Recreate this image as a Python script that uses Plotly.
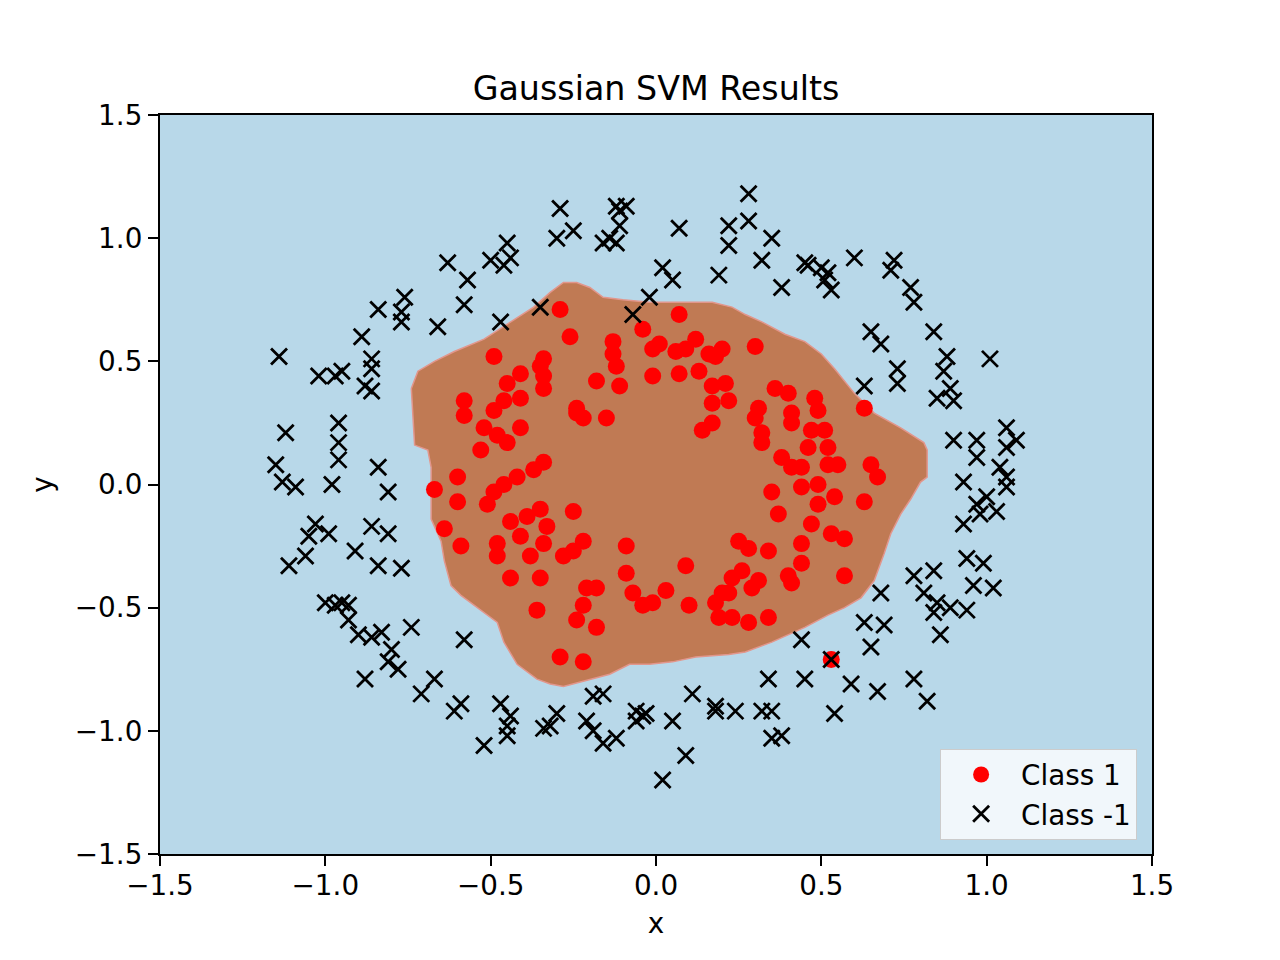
import plotly.graph_objects as go

# ---- data ----
class1_x = [-0.29, -0.26, -0.49, -0.34, -0.35, -0.34, -0.41, -0.45, -0.18, -0.13, -0.13, -0.12, -0.04, -0.01, 0.01, -0.01, -0.11,
            0.07, 0.06, 0.09, 0.12, 0.16, 0.18, 0.20, 0.30, 0.07, 0.13, 0.21, 0.17, 0.17, 0.22, 0.17, 0.14, 0.36, 0.40, 0.48,
            0.49, 0.31, 0.30, 0.32, 0.32, 0.41, 0.41, 0.47, 0.51, 0.46, 0.52, 0.38, 0.41, 0.44, 0.52, 0.55, 0.35, 0.44, 0.49,
            0.49, 0.54, 0.37, 0.47, 0.53, 0.57, 0.44, 0.25, 0.28, 0.34, 0.44, 0.09, 0.26, 0.23, 0.31, 0.40, 0.41, 0.03, 0.57,
            0.63, 0.65, 0.67, 0.63,
            -0.58, -0.58, -0.49, -0.46, -0.41, -0.34, -0.52, -0.48, -0.45, -0.41, -0.53, -0.24, -0.22, -0.24, -0.15, -0.34,
            -0.37, -0.42, -0.46, -0.49, -0.51, -0.60, -0.60, -0.25, -0.35, -0.39, -0.44, -0.33, -0.41, -0.34, -0.48, -0.59,
            -0.48, -0.38, -0.28, -0.22, -0.25, -0.09, -0.44, -0.35, -0.09, -0.21, -0.18, -0.64, -0.67,
            -0.36, -0.22, -0.24, -0.18, -0.29, -0.22, -0.07, -0.04, -0.01, 0.10, 0.18, 0.20, 0.22, 0.19, 0.23, 0.28, 0.34,
            0.29, 0.53]
class1_y = [0.71, 0.60, 0.52, 0.51, 0.48, 0.44, 0.45, 0.41, 0.42, 0.58, 0.53, 0.48, 0.63, 0.55, 0.57, 0.44, 0.40,
            0.69, 0.54, 0.55, 0.59, 0.53, 0.52, 0.55, 0.56, 0.45, 0.46, 0.41, 0.40, 0.33, 0.34, 0.25, 0.22, 0.39, 0.37, 0.35,
            0.30, 0.31, 0.27, 0.21, 0.17, 0.29, 0.25, 0.22, 0.22, 0.15, 0.15, 0.11, 0.07, 0.07, 0.08, 0.08, -0.03, -0.01, 0.00,
            -0.08, -0.05, -0.12, -0.16, -0.20, -0.22, -0.24, -0.23, -0.26, -0.27, -0.32, -0.33, -0.35, -0.38, -0.39, -0.37,
            -0.40, -0.43, -0.37,
            0.31, 0.08, 0.03, -0.07,
            0.34, 0.28, 0.30, 0.34, 0.35, 0.39, 0.23, 0.20, 0.17, 0.23, 0.14, 0.31, 0.27, 0.29, 0.27, 0.09,
            0.06, 0.03, 0.00, -0.03, -0.08, 0.03, -0.07, -0.11, -0.10, -0.13, -0.15, -0.17, -0.21, -0.24, -0.24, -0.25,
            -0.29, -0.29, -0.29, -0.23, -0.27, -0.25, -0.38, -0.38, -0.36, -0.42, -0.42, -0.18, -0.02,
            -0.51, -0.49, -0.55, -0.58, -0.70, -0.72, -0.44, -0.49, -0.48, -0.49, -0.48, -0.44, -0.44, -0.54, -0.54, -0.56,
            -0.54, -0.42, -0.71]

classm1_x = [0.28, -0.29, -0.12, -0.09, -0.11, -0.30, -0.25, -0.16, -0.14, -0.11, -0.12, 0.07, 0.22, 0.28, 0.22, 0.35,
             0.32, 0.02, 0.05, 0.19, 0.38, 0.45, 0.46, 0.50, 0.52, 0.51, 0.53, -0.02, 0.60, 0.72, 0.71, 0.77, 0.78, 0.65,
             0.68, 0.84, 0.88, 1.01, 0.87, 0.89, 0.85, 0.90, 0.73, 0.73, 0.63, 0.90, 0.97, 0.97, 1.06, 1.09, 1.06, 1.04,
             1.06, 1.06, 0.93, 1.00, 0.97, 0.98, 1.03, 0.93, 0.94, 0.99, 0.78, 0.84, 0.96, 1.02, 0.68, 0.81, 0.85, 0.89,
             0.94, 0.84, 0.86, 0.63, 0.69, 0.65, 0.59, 0.67, 0.78, 0.82, 0.44, 0.53, 0.34, 0.45, 0.11, 0.18, 0.18, 0.24,
             0.32, 0.35, 0.54, -0.03, 0.05, 0.35, 0.38, 0.09, 0.02, -0.58, -0.47, -0.44, -0.45, -0.45, -0.52, -0.34, -0.32,
             -0.30, -0.19, -0.16, -0.21, -0.19, -0.16, -0.12, -0.06, -0.04, -0.06, -0.59, -0.61, -1.00, -0.97, -0.95,
             -0.93, -0.93, -0.90, -0.86, -0.83, -0.74, -0.80, -0.81, -0.78, -0.88, -0.67, -0.71, -0.96, -1.12, -0.96,
             -0.96, -1.15, -0.84, -1.13, -1.09, -0.98, -0.81, -1.03, -1.05, -0.99, -0.86, -0.81, -1.06, -1.11, -0.91,
             -0.84, -0.77, -0.63, -0.76, -0.84, -0.77, -0.77, -0.66, -0.89, -1.14, -0.86, -0.86, -1.02, -0.97, -0.95,
             -0.88, -0.86, -0.50, -0.45, -0.44, -0.46, -0.57, -0.58, -0.47, -0.35, -0.07]
classm1_y = [1.18, 1.12, 1.13, 1.13, 1.11, 1.00, 1.03, 0.98, 1.00, 1.05, 0.98, 1.04, 1.05, 1.07, 0.97, 1.00,
             0.91, 0.88, 0.83, 0.85, 0.80, 0.90, 0.89, 0.88, 0.86, 0.83, 0.79, 0.76, 0.92, 0.91, 0.87, 0.80, 0.74, 0.62,
             0.57, 0.62, 0.52, 0.51, 0.46, 0.39, 0.35, 0.34, 0.47, 0.41, 0.40, 0.18, 0.18, 0.11, 0.23, 0.18, 0.15, 0.07,
             0.03, -0.01, 0.01, -0.05, -0.08, -0.12, -0.11, -0.16, -0.30, -0.32, -0.37, -0.35, -0.41, -0.42, -0.44, -0.44,
             -0.48, -0.50, -0.51, -0.52, -0.61, -0.56, -0.57, -0.66, -0.81, -0.84, -0.79, -0.88, -0.63, -0.71, -0.79,
             -0.79, -0.85, -0.90, -0.92, -0.92, -0.92, -0.92, -0.93, -0.93, -0.96, -1.03, -1.02, -1.10, -1.20, -0.63,
             -0.89, -0.94, -1.02, -0.98, -1.06, -0.99, -0.98, -0.93, -0.86, -0.85, -0.96, -1.00, -1.05, -1.03, -0.92,
             -0.94, -0.96, -0.89, -0.92, -0.48, -0.49, -0.48, -0.49, -0.55, -0.61, -0.62, -0.60, -0.58, -0.67, -0.72,
             -0.75, -0.79, -0.79, -0.85, 0.25, 0.21, 0.17, 0.10, 0.08, 0.07, 0.01, -0.01, 0.00, -0.03, -0.16, -0.21,
             -0.20, -0.17, -0.20, -0.29, -0.33, -0.27, -0.33, -0.34, 0.90, 0.76, 0.71, 0.70, 0.66, 0.64, 0.60, 0.52,
             0.51, 0.47, 0.44, 0.44, 0.46, 0.40, 0.38, 0.91, 0.98, 0.92, 0.89, 0.83, 0.73, 0.66, 0.72, 0.69]

# decision region (class 1) outline
boundary_x = [-0.74, -0.72, -0.67, -0.61, -0.52, -0.45, -0.37, -0.32, -0.28, -0.24, -0.20, -0.16, -0.10, -0.02, 0.17,
              0.23, 0.27, 0.32, 0.39, 0.45, 0.50, 0.54, 0.57, 0.60, 0.66, 0.74, 0.81, 0.82, 0.82, 0.80, 0.77, 0.74, 0.71,
              0.69, 0.66, 0.62, 0.57, 0.52, 0.45, 0.40, 0.35, 0.27, 0.22, 0.12, 0.05, -0.02, -0.08, -0.14, -0.22, -0.28,
              -0.32, -0.36, -0.42, -0.46, -0.48, -0.52, -0.59, -0.62, -0.64, -0.65, -0.68, -0.68, -0.69, -0.73, -0.74]
boundary_y = [0.39, 0.46, 0.50, 0.54, 0.59, 0.65, 0.72, 0.78, 0.82, 0.82, 0.80, 0.76, 0.75, 0.74, 0.74,
              0.72, 0.69, 0.66, 0.61, 0.58, 0.53, 0.47, 0.42, 0.37, 0.29, 0.23, 0.17, 0.14, 0.03, 0.01, -0.06, -0.12, -0.20,
              -0.28, -0.39, -0.46, -0.50, -0.53, -0.58, -0.61, -0.64, -0.68, -0.69, -0.70, -0.72, -0.73, -0.73, -0.77, -0.80,
              -0.82, -0.81, -0.79, -0.73, -0.64, -0.56, -0.52, -0.45, -0.41, -0.31, -0.23, -0.14, 0.07, 0.14, 0.16, 0.39]

tick_vals = [-1.5, -1.0, -0.5, 0.0, 0.5, 1.0, 1.5]
tick_text = ["\u22121.5", "\u22121.0", "\u22120.5", "0.0", "0.5", "1.0", "1.5"]

FONT = "DejaVu Sans"
BLUE_BG = "rgb(184,216,233)"
BROWN = "rgb(192,122,84)"

fig = go.Figure()

fig.add_trace(go.Scatter(
    x=boundary_x, y=boundary_y, mode="lines", fill="toself",
    fillcolor=BROWN, line=dict(color="rgb(226,150,140)", width=1.5),
    showlegend=False, hoverinfo="skip"))

fig.add_trace(go.Scatter(
    x=class1_x, y=class1_y, mode="markers", name="Class 1",
    marker=dict(symbol="circle", size=17, color="red", line=dict(width=0))))

fig.add_trace(go.Scatter(
    x=classm1_x, y=classm1_y, mode="markers", name="Class -1",
    marker=dict(symbol="x-thin", size=16, color="black", line=dict(width=2.8, color="black"))))

axis_common = dict(
    range=[-1.5, 1.5], tickvals=tick_vals, ticktext=tick_text,
    showgrid=False, zeroline=False, showline=True, mirror=True,
    linecolor="black", linewidth=2.2, ticks="outside", ticklen=10, tickwidth=2.2,
    tickcolor="black", tickfont=dict(family=FONT, size=27.8, color="black"),
)

fig.update_layout(
    width=1280, height=960,
    margin=dict(l=152, r=136, t=107, b=114, pad=0),
    paper_bgcolor="white", plot_bgcolor=BLUE_BG,
    font=dict(family=FONT, color="black"),
    title=dict(text="Gaussian SVM Results", x=0.5063, xanchor="center",
               yref="container", y=1 - 92 / 960, yanchor="bottom",
               font=dict(family=FONT, size=33.3, color="black")),
    xaxis=dict(**axis_common, ticklabelstandoff=-4,
               title=dict(text="x", standoff=12,
                          font=dict(family=FONT, size=27.8, color="black"))),
    yaxis=dict(**axis_common, title=dict(text="y", standoff=14,
               font=dict(family=FONT, size=27.8, color="black"))),
    legend=dict(x=0.985, y=0.019, xanchor="right", yanchor="bottom",
                bgcolor="rgba(255,255,255,0.8)", bordercolor="#cccccc", borderwidth=1,
                font=dict(family=FONT, size=27.8, color="black"),
                itemwidth=70),
)

fig.write_html("out.html")
